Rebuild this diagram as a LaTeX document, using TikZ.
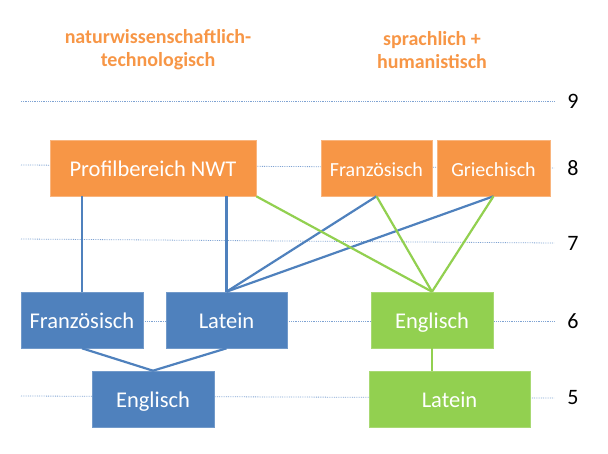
\documentclass[tikz,border=0pt]{standalone}
\usepackage{fontspec}
\setmainfont{Carlito}
\definecolor{orng}{HTML}{F79646}
\definecolor{blu}{HTML}{4F81BD}
\definecolor{grn}{HTML}{92D050}
\definecolor{dots}{HTML}{7FA3D3}
\tikzset{
	box/.style={rectangle,inner sep=0pt,minimum height=56pt,text height=20pt,text depth=4pt,text=white,font=\fontsize{22.5}{26}\selectfont},
	obox/.style={box,fill=orng,draw=orng!70!white,line width=0.6pt},
	bbox/.style={box,fill=blu,draw=blu!80!white,line width=0.6pt},
	gbox/.style={box,fill=grn,draw=grn!80!white,line width=0.6pt},
	head/.style={text=orng,align=center,font=\bfseries\fontsize{20}{23}\selectfont},
	lvl/.style={font=\fontsize{22}{26}\selectfont,inner sep=0pt},
	lvline/.style={dots,densely dotted,line width=0.8pt},
	bline/.style={blu,line width=2.2pt},
	gline/.style={grn,line width=2.2pt}
}
\begin{document}
\begin{tikzpicture}[x=1pt,y=-1pt]
	\useasboundingbox (0,0) rectangle (608,453);
	% Klassenstufen
	\foreach \n/\yl/\yr in {9/101/101,8/165/168,7/239/243,6/321/321,5/396/398}{
		\node[lvl] (lv\n) at (573,\yr) {\n};
		\coordinate (a\n) at (21,\yl);
		\coordinate (b\n) at (554,\yr);
		\draw[lvline] (a\n) -- (b\n);
	}
	\node[head] (hnwt) at (158,50) {naturwissenschaftlich-\\technologisch};
	\node[head] (hspr) at (432,50) {sprachlich +\\humanistisch};
	% Kästen
	\node[obox,minimum width=206pt] (nwt) at (153,168) {Profilbereich NWT};
	\node[obox,minimum width=111pt,font=\fontsize{20}{24}\selectfont] (frz8) at (376.5,168) {Französisch};
	\node[obox,minimum width=113pt,font=\fontsize{20}{24}\selectfont] (gri8) at (493.5,168) {Griechisch};
	\node[bbox,minimum width=122pt] (frz6) at (82,320) {Französisch};
	\node[bbox,minimum width=121pt] (lat6) at (226.5,320) {Latein};
	\node[gbox,minimum width=122pt] (eng6) at (432,320) {Englisch};
	\node[bbox,minimum width=122pt] (eng5) at (153,399) {Englisch};
	\node[gbox,minimum width=161pt] (lat5) at (449.5,399) {Latein};
	% Verbindungen
	\draw[bline] (nwt.south -| frz6) -- (frz6.north);
	\draw[bline] (nwt.south -| lat6) -- (lat6.north);
	\draw[bline] (frz8.south) -- (lat6.north);
	\draw[bline] (gri8.south) -- (lat6.north);
	\draw[gline] (nwt.south east) -- (eng6.north);
	\draw[gline] (frz8.south) -- (eng6.north);
	\draw[gline] (gri8.south) -- (eng6.north);
	\draw[bline] (frz6.south) -- (eng5.north);
	\draw[bline] (lat6.south) -- (eng5.north);
	\draw[gline] (eng6.south) -- (eng6.south |- lat5.north);
\end{tikzpicture}
\end{document}
